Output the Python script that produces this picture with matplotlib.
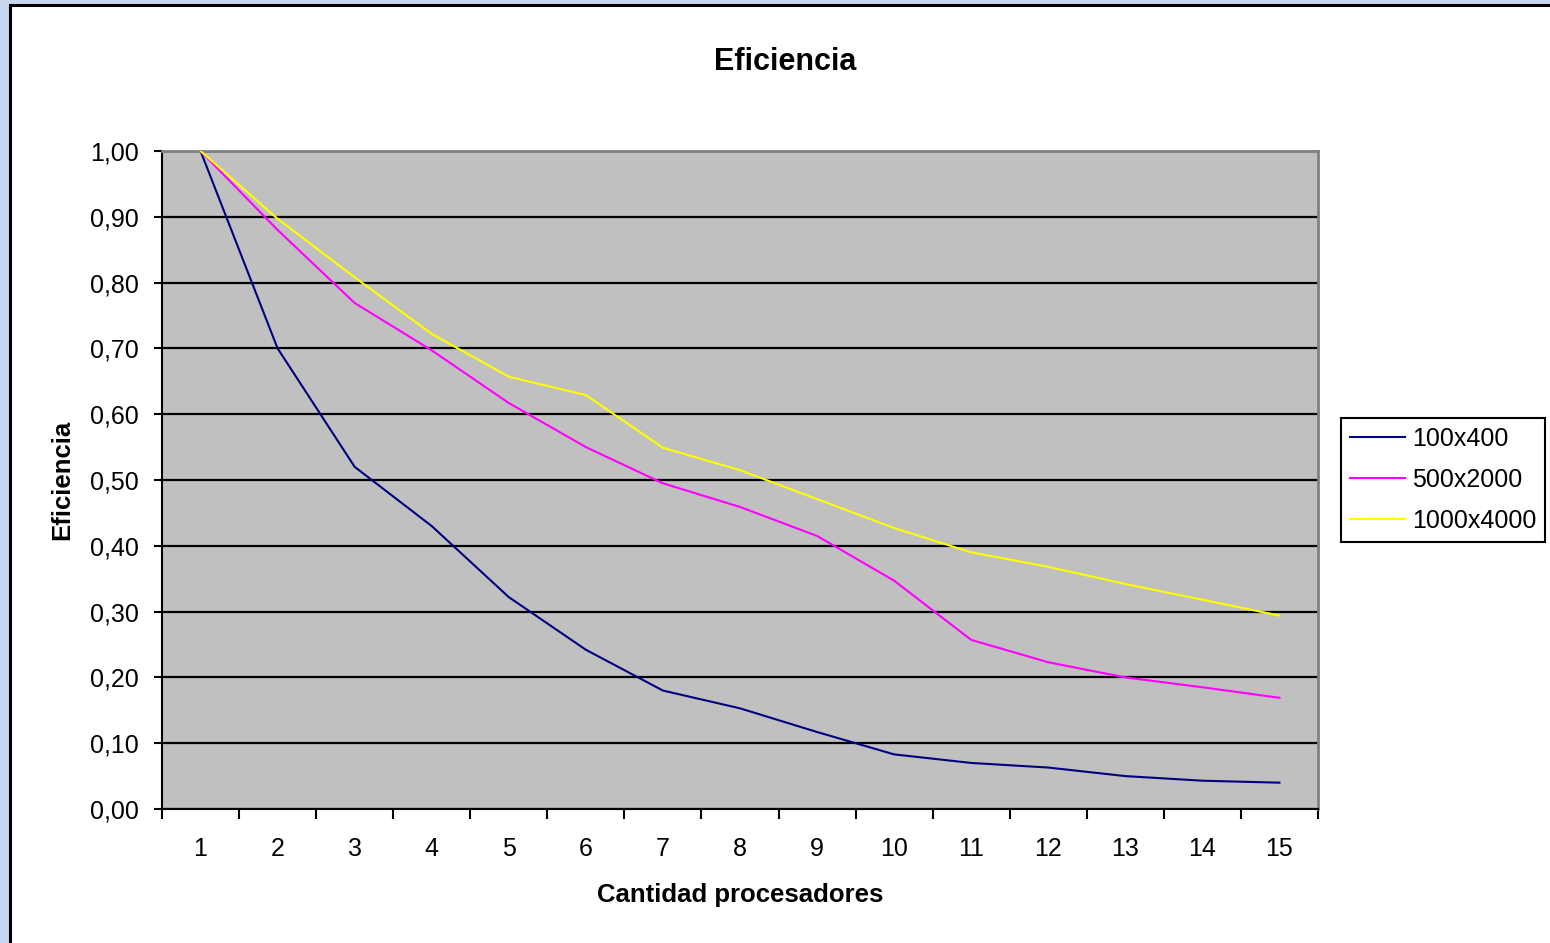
#Eficiencia vs cantidad de procesadores (Excel style chart)
import matplotlib
matplotlib.use("Agg")
import matplotlib.pyplot as plt
from matplotlib.patches import Rectangle
from matplotlib.ticker import FuncFormatter, FixedLocator

#Data
procesadores = list(range(1, 16))
ef_100x400 = [1.00, 0.70, 0.52, 0.43, 0.322, 0.242, 0.18, 0.153, 0.117, 0.083,
              0.07, 0.063, 0.05, 0.043, 0.04]
ef_500x2000 = [1.00, 0.88, 0.769, 0.697, 0.617, 0.55, 0.495, 0.459, 0.415, 0.347,
               0.257, 0.223, 0.20, 0.185, 0.169]
ef_1000x4000 = [1.00, 0.897, 0.808, 0.722, 0.657, 0.629, 0.549, 0.515, 0.471, 0.427,
                0.39, 0.368, 0.342, 0.318, 0.294]
series_names = ['100x400', '500x2000', '1000x4000']
series_colors = ['#000080', '#ff00ff', '#ffff00']

plt.rcParams['font.family'] = ['Liberation Sans', 'DejaVu Sans']

W, H = 1550, 943
fig = plt.figure(figsize=(W / 100, H / 100), dpi=100)
fig.patch.set_facecolor('#c6d7ee')

#White chart area with black frame (cropped at right / bottom)
fig.patches.append(Rectangle((10 / W, -0.01), 1.02, 1 - 5 / H + 0.01,
                             transform=fig.transFigure, facecolor='white',
                             edgecolor='black', linewidth=2.2, zorder=-5))

ax = fig.add_axes([162 / W, 1 - 809 / H, (1318 - 162) / W, (809 - 151) / H])
ax.set_facecolor('#c0c0c0')

for vals, name, col in zip([ef_100x400, ef_500x2000, ef_1000x4000], series_names, series_colors):
    ax.plot(procesadores, vals, color=col, linewidth=1.5, label=name, zorder=3)

ax.set_xlim(0.5, 15.5)
ax.set_ylim(0, 1)

#y axis
ax.set_yticks([i / 10 for i in range(11)])
ax.yaxis.set_major_formatter(FuncFormatter(lambda v, p: ('%.2f' % v).replace('.', ',')))
ax.tick_params(axis='y', direction='out', length=6, width=1.5, pad=11, labelsize=18)
ax.grid(axis='y', color='black', linewidth=1.6, zorder=1)

#x axis: ticks between categories, labels at the centers
ax.xaxis.set_major_locator(FixedLocator([i + 0.5 for i in range(0, 16)]))
ax.xaxis.set_minor_locator(FixedLocator(procesadores))
ax.set_xticklabels([])
ax.set_xticklabels([str(p) for p in procesadores], minor=True)
ax.tick_params(axis='x', which='major', direction='out', length=7, width=1.5)
ax.tick_params(axis='x', which='minor', length=0, pad=20.5, labelsize=18)

for s in ['left', 'bottom']:
    ax.spines[s].set_color('black')
    ax.spines[s].set_linewidth(1.5)
for s in ['top', 'right']:
    ax.spines[s].set_color('#808080')
    ax.spines[s].set_linewidth(2)
ax.set_axisbelow(True)

ax.set_xlabel('Cantidad procesadores', fontsize=18.5, fontweight='bold', labelpad=15.5)
ax.set_ylabel('Eficiencia', fontsize=18.5, fontweight='bold', labelpad=11)
fig.text(785 / W, 1 - 62 / H, 'Eficiencia', fontsize=22, fontweight='bold',
         ha='center', va='center')

leg = ax.legend(loc='center left', bbox_to_anchor=(1341 / W, 1 - 480 / H),
                bbox_transform=fig.transFigure, fontsize=18, frameon=True,
                fancybox=False, edgecolor='black', facecolor='white',
                borderaxespad=0, handlelength=2.2, handletextpad=0.28,
                labelspacing=0.68, borderpad=0.35)
leg.get_frame().set_linewidth(1.5)
leg.get_frame().set_alpha(1)

fig.savefig('out.png', dpi=100, facecolor=fig.get_facecolor())
